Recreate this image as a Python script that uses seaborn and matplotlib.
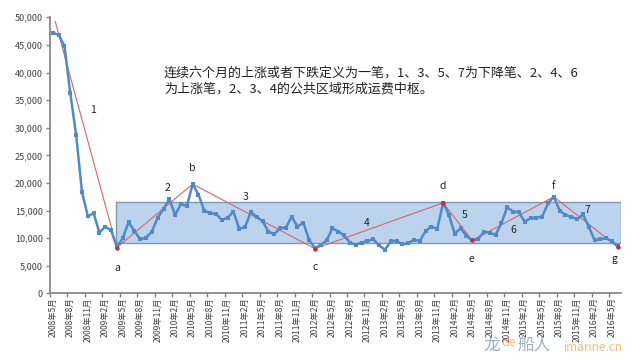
import numpy as np
import pandas as pd
import seaborn as sns
import matplotlib.pyplot as plt
from matplotlib.patches import Rectangle
from matplotlib.ticker import FuncFormatter

# monthly freight index, 2008/5 .. 2016/6
freight = [47200, 46800, 44800, 36200, 28700, 18400, 14000, 14500, 11000, 12100,
           11400, 8400, 10000, 12900, 11300, 9800, 10100, 11200, 13700, 15300,
           17100, 14200, 16200, 15800, 19800, 17900, 15000, 14500, 14400, 13300,
           13700, 14800, 11700, 12000, 14800, 13800, 13100, 11200, 10700, 11800,
           11900, 13900, 12100, 12800, 9700, 8200, 8800, 9600, 11800, 11200,
           10500, 9200, 8800, 9200, 9500, 9800, 8700, 7900, 9400, 9500,
           8900, 9100, 9700, 9500, 11300, 12100, 11700, 16400, 14200, 10800,
           11800, 10400, 9600, 9800, 11200, 11000, 10600, 12700, 15600, 14800,
           14700, 13000, 13600, 13700, 13900, 16300, 17500, 15000, 14200, 13900,
           13400, 14300, 12100, 9600, 9800, 10000, 9400, 8500]
months = pd.date_range('2008-05-01', periods=len(freight), freq='MS')
month_labels = [f'{d.year}年{d.month}月' for d in months]

# pen strokes (笔) connecting the turning points
pen_idx = [0.4, 11, 24, 45, 67, 72, 86, 97]
pen_val = [49300, 8300, 19800, 8100, 16400, 9600, 17500, 8400]
# turning points drawn with a red dot (a, c, d, e, g)
low_idx = [11, 45, 67, 72, 97]
low_val = [8300, 8100, 16400, 9600, 8400]

# central zone (中枢)
zone_start, zone_end = 10.8, 97.5
zone_low, zone_high = 9200, 16500

# annotation letters / stroke numbers: (text, idx, value)
marks = [('1', 6.9, 33200), ('2', 19.6, 19100), ('b', 24.0, 22700), ('3', 33.1, 17400),
         ('4', 53.9, 12700), ('5', 70.7, 14200), ('6', 79.1, 11500), ('7', 91.8, 15100),
         ('a', 11.0, 4600), ('c', 45.0, 4800), ('d', 66.9, 19400), ('e', 71.9, 6200),
         ('f', 85.9, 19400), ('g', 96.4, 6200)]

note = ['连续六个月的上涨或者下跌定义为一笔，1、3、5、7为下降笔、2、4、6',
        '为上涨笔，2、3、4的公共区域形成运费中枢。']

sns.set_theme(style='white')
plt.rcParams['font.family'] = ['Noto Sans CJK SC', 'DejaVu Sans']

df = pd.DataFrame({'idx': np.arange(len(freight)), 'freight': freight})
pen = pd.DataFrame({'idx': pen_idx, 'val': pen_val})

fig = plt.figure(figsize=(6.4, 3.6), dpi=100)
ax = fig.add_axes([0.078, 0.185, 0.892, 0.767])

ax.add_patch(Rectangle((zone_start, zone_low), zone_end - zone_start, zone_high - zone_low,
                       facecolor='#bcd3ee', edgecolor='#7f98b8', lw=1, zorder=1))

sns.lineplot(data=pen, x='idx', y='val', color='#d9636a', lw=0.8, ax=ax, zorder=2)
sns.lineplot(data=df, x='idx', y='freight', color='#5189c4', lw=1.8, marker='s',
             markersize=3, markeredgewidth=0, ax=ax, zorder=3)
sns.scatterplot(x=low_idx, y=low_val, color='#c0303a', s=10, linewidth=0, ax=ax, zorder=4)

for txt, xi, yv in marks:
    ax.text(xi, yv, txt, ha='center', va='center', fontsize=7.5, color='#222222')

for k, line in enumerate(note):
    fig.text(0.256, 0.797 - k * 0.045, line, ha='left', va='center', fontsize=9.4,
             color='#222222')

ax.set_xlim(-0.5, 97.5)
ax.set_ylim(0, 50000)
ax.set_yticks(np.arange(0, 50001, 5000))
ax.yaxis.set_major_formatter(FuncFormatter(lambda v, p: f'{int(v):,}'))
ax.set_xticks(np.arange(0, len(freight), 3))
ax.set_xticklabels(month_labels[::3], rotation=90)
ax.set_xticks(np.arange(-0.5, len(freight), 3), minor=True)
ax.tick_params(axis='x', which='major', length=0, pad=3, labelsize=6, labelcolor='#404040')
ax.tick_params(axis='x', which='minor', length=3, width=1, color='#808080', direction='out',
               bottom=True)
ax.tick_params(axis='y', length=3, width=1, color='#808080', direction='out', left=True,
               labelsize=6.5, labelcolor='#404040', pad=2)
ax.set_xlabel('')
ax.set_ylabel('')
sns.despine(ax=ax)
for s in ['left', 'bottom']:
    ax.spines[s].set_color('#808080')
    ax.spines[s].set_linewidth(1.2)

# watermark
fig.text(0.755, 0.04, '龙', fontsize=12, color='#6f8fb5', alpha=0.7, ha='left', va='center')
fig.text(0.783, 0.048, 'de', fontsize=9, color='#f0a040', alpha=0.7, ha='left', va='center')
fig.text(0.808, 0.04, '船人', fontsize=12, color='#6f8fb5', alpha=0.7, ha='left', va='center')
fig.text(0.88, 0.035, 'imarine.cn', fontsize=8.5, color='#f0a040', alpha=0.7, style='italic',
         ha='left', va='center')

fig.savefig('out.png', dpi=100)
